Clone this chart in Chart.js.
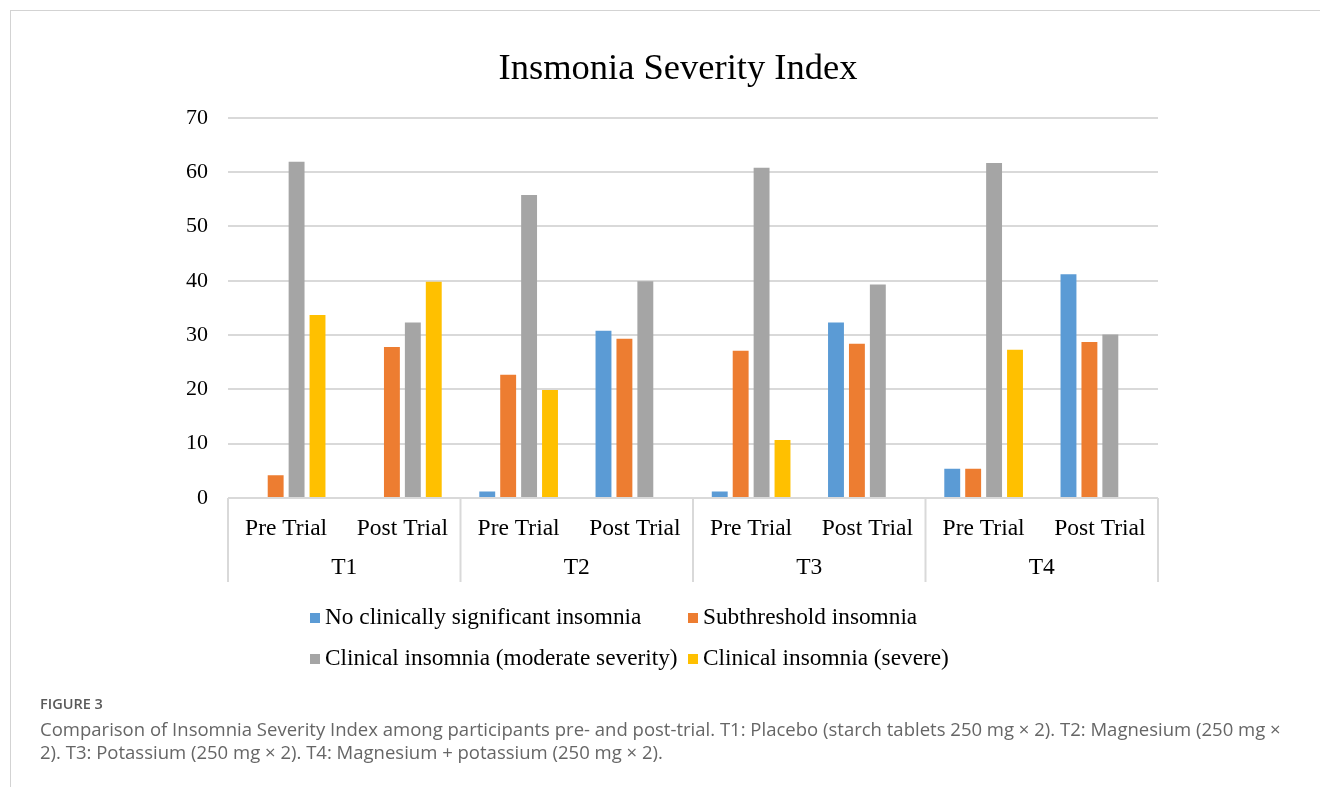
<!DOCTYPE html>
<html>
<head>
<meta charset="utf-8">
<script src="https://cdn.jsdelivr.net/npm/chart.js@4.4.1/dist/chart.umd.min.js"></script>
<style>
  html, body { margin: 0; padding: 0; background: #fff; }
  body { width: 1320px; height: 787px; overflow: hidden; position: relative; font-family: "Liberation Serif", serif; }
  #frame { position: absolute; left: 10px; top: 10px; right: 0; bottom: 0; border-left: 1px solid #d3d3d3; border-top: 1px solid #d3d3d3; }
  #wrap { position: absolute; left: 11px; top: 12px; width: 1309px; height: 580px; }
  #legend { position: absolute; left: 0; top: 0; width: 1320px; height: 787px; pointer-events: none; }
  .item { position: absolute; display: flex; align-items: center; font-family: "Liberation Serif", serif; font-size: 23.3px; color: #000; white-space: nowrap; line-height: 26px; }
  .swatch { width: 10px; height: 10px; margin-right: 5px; margin-top: 3px; }
  #fig { position: absolute; left: 40px; top: 694px; font-family: "Open Sans", sans-serif; font-size: 14.5px; font-weight: 600; line-height: 20px; color: #5a5a5a; }
  #cap { position: absolute; left: 40px; top: 717px; font-family: "Open Sans", sans-serif; font-size: 18.52px; line-height: 23px; color: #666; white-space: nowrap; }
</style>
</head>
<body>
<div id="frame"></div>
<div id="wrap"><canvas id="chart" width="1309" height="580"></canvas></div>
<div id="legend"></div>
<div id="fig">FIGURE 3</div>
<div id="cap">Comparison of Insomnia Severity Index among participants pre- and post-trial. T1: Placebo (starch tablets 250 mg × 2). T2: Magnesium (250 mg ×<br>2). T3: Potassium (250 mg × 2). T4: Magnesium + potassium (250 mg × 2).</div>
<script>
// Trial phases (inner axis row) and treatment groups (outer axis row)
const categories = ['Pre Trial', 'Post Trial', 'Pre Trial', 'Post Trial', 'Pre Trial', 'Post Trial', 'Pre Trial', 'Post Trial'];
const treatments = ['T1', 'T2', 'T3', 'T4'];

// Share of participants (%) in each ISI severity band
const seriesNames = [
  'No clinically significant insomnia',
  'Subthreshold insomnia',
  'Clinical insomnia (moderate severity)',
  'Clinical insomnia (severe)'
];
const noInsomnia   = [0,    0,    1.2,  30.8, 1.2,  32.3, 5.4,  41.2];
const subthreshold = [4.2,  27.8, 22.7, 29.3, 27.1, 28.4, 5.4,  28.7];
const moderate     = [61.9, 32.3, 55.8, 39.9, 60.8, 39.3, 61.7, 30.1];
const severe       = [33.7, 39.8, 19.9, 0,    10.7, 0,    27.3, 0];
const seriesColors = ['#5B9BD5', '#ED7D31', '#A5A5A5', '#FFC000'];

// Value axis range
const yMin = 0, yMax = 70, yStep = 10;

const serif = 'Liberation Serif';
const catFont = { family: serif, size: 23.5 };
const valFont = { family: serif, size: 22 };
const gridColor = '#d9d9d9';

// Vertical dividers between treatment groups, running through both label rows
const groupDividers = {
  id: 'groupDividers',
  afterLayout(chart) {
    // centre the title over the plot rather than the whole canvas
    const t = chart.titleBlock;
    if (t) { t.left += 14; t.width -= 14; }
  },
  afterDraw(chart) {
    const x = chart.scales.x, x2 = chart.scales.x2, ctx = chart.ctx;
    const step = x.getPixelForValue(1) - x.getPixelForValue(0);
    ctx.save();
    ctx.strokeStyle = gridColor;
    ctx.lineWidth = 2;
    for (let i = 0; i <= categories.length; i += 2) {
      const px = i === categories.length
        ? x.getPixelForValue(i - 1) + step / 2
        : x.getPixelForValue(i) - step / 2;
      ctx.beginPath();
      ctx.moveTo(px, chart.chartArea.bottom);
      ctx.lineTo(px, x2.bottom - 2);
      ctx.stroke();
    }
    ctx.restore();
  }
};

const values = [noInsomnia, subthreshold, moderate, severe];
const datasets = seriesNames.map((name, i) => ({
  label: name,
  data: values[i],
  backgroundColor: seriesColors[i],
  borderWidth: 0,
  xAxisID: 'x',
  categoryPercentage: 0.72,
  barPercentage: 0.76
}));

const chart = new Chart(document.getElementById('chart'), {
  type: 'bar',
  data: { labels: categories, datasets },
  options: {
    responsive: false,
    animation: false,
    layout: { padding: { left: 173, right: 162, top: 0, bottom: 8 } },
    plugins: {
      legend: { display: false },
      tooltip: { enabled: false },
      title: {
        display: true,
        text: 'Insmonia Severity Index',
        color: '#000',
        font: { family: serif, size: 36.5, weight: 'normal' },
        padding: { top: 36, bottom: 26 }
      }
    },
    scales: {
      x: {
        type: 'category',
        weight: 0,
        grid: { display: false },
        border: { display: false },
        ticks: { font: catFont, color: '#000', padding: 9, maxRotation: 0, autoSkip: false },
        afterFit(s) { s.height = 42; }
      },
      x2: {
        type: 'category',
        labels: treatments,
        offset: true,
        position: 'bottom',
        weight: 1,
        grid: { display: false },
        border: { display: false },
        ticks: { font: catFont, color: '#000', padding: 6, maxRotation: 0 },
        afterFit(s) { s.height = 44; }
      },
      y: {
        min: yMin,
        max: yMax,
        ticks: { stepSize: yStep, font: valFont, color: '#000', padding: 20 },
        grid: { color: gridColor, lineWidth: 2, drawTicks: false },
        border: { display: false },
        afterFit(s) { s.width = 44; }
      }
    }
  },
  plugins: [groupDividers]
});

// Two-column legend below the chart
const legendEl = document.getElementById('legend');
const legendPos = [[310, 603], [688, 603], [310, 644], [688, 644]];
chart.data.datasets.forEach((ds, i) => {
  const item = document.createElement('div');
  item.className = 'item';
  item.style.left = legendPos[i][0] + 'px';
  item.style.top = legendPos[i][1] + 'px';
  const sw = document.createElement('span');
  sw.className = 'swatch';
  sw.style.background = ds.backgroundColor;
  const tx = document.createElement('span');
  tx.textContent = ds.label;
  item.appendChild(sw);
  item.appendChild(tx);
  legendEl.appendChild(item);
});
</script>
</body>
</html>
